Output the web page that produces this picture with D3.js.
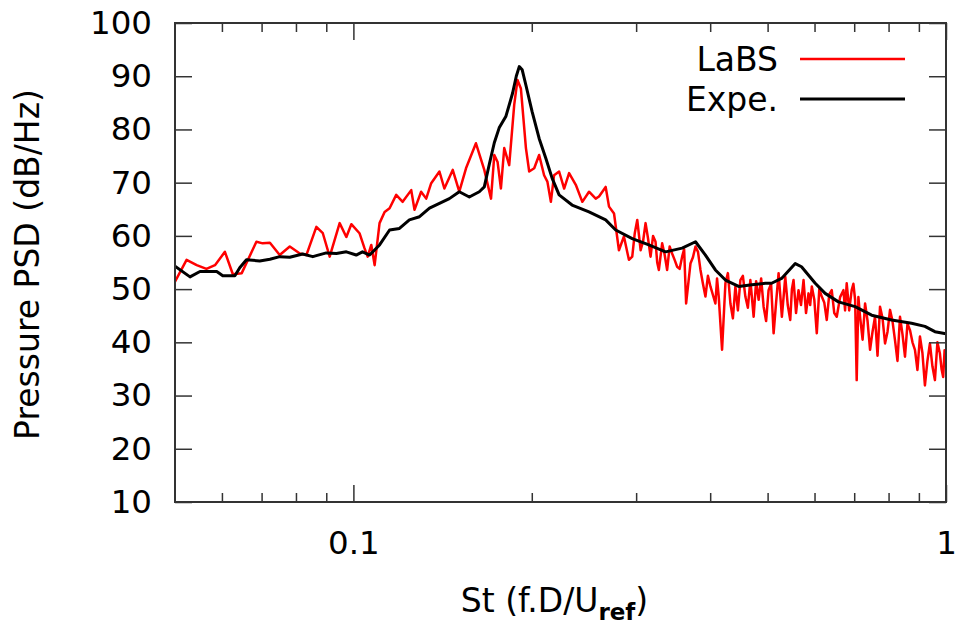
<!DOCTYPE html>
<html>
<head>
<meta charset="utf-8">
<script src="https://cdn.jsdelivr.net/npm/d3@7"></script>
<style>
  body { margin: 0; background: #fff; }
  text { font-family: "DejaVu Sans", sans-serif; fill: #000; }
</style>
</head>
<body>
<svg id="chart"></svg>
<script>
const W = 964, H = 626;

// LaBS (simulation), St and PSD in dB/Hz
var labsSt = [0.0500, 0.0523, 0.0544, 0.0565, 0.0584, 0.0607, 0.0626, 0.0648, 0.0686, 0.0703,
  0.0723, 0.0751, 0.0781, 0.0812, 0.0833, 0.0866, 0.0888, 0.0912, 0.0948, 0.0973,
  0.0992, 0.1024, 0.1044, 0.1057, 0.1072, 0.1086, 0.1107, 0.1129, 0.1151, 0.1181,
  0.1211, 0.1252, 0.1268, 0.1301, 0.1327, 0.1353, 0.1397, 0.1424, 0.1471, 0.1509,
  0.1549, 0.1610, 0.1663, 0.1707, 0.1729, 0.1751, 0.1774, 0.1797, 0.1832, 0.1868,
  0.1892, 0.1917, 0.1955, 0.1980, 0.2019, 0.2058, 0.2098, 0.2125, 0.2154, 0.2181,
  0.2224, 0.2268, 0.2312, 0.2373, 0.2434, 0.2498, 0.2564, 0.2597, 0.2665, 0.2700,
  0.2753, 0.2806, 0.2861, 0.2917, 0.2955, 0.2984, 0.3013, 0.3053, 0.3082, 0.3112,
  0.3142, 0.3173, 0.3204, 0.3235, 0.3256, 0.3277, 0.3319, 0.3351, 0.3384, 0.3417,
  0.3450, 0.3484, 0.3518, 0.3552, 0.3587, 0.3615, 0.3643, 0.3705, 0.3741, 0.3778,
  0.3815, 0.3852, 0.3889, 0.3927, 0.3965, 0.4004, 0.4082, 0.4108, 0.4135, 0.4189,
  0.4244, 0.4285, 0.4327, 0.4369, 0.4412, 0.4455, 0.4498, 0.4542, 0.4586, 0.4631,
  0.4676, 0.4736, 0.4782, 0.4829, 0.4876, 0.4923, 0.4971, 0.5019, 0.5068, 0.5118,
  0.5168, 0.5218, 0.5251, 0.5285, 0.5320, 0.5355, 0.5407, 0.5460, 0.5495, 0.5530,
  0.5584, 0.5638, 0.5693, 0.5749, 0.5805, 0.5861, 0.5899, 0.5937, 0.5995, 0.6053,
  0.6112, 0.6171, 0.6231, 0.6292, 0.6353, 0.6415, 0.6478, 0.6541, 0.6627, 0.6713,
  0.6756, 0.6799, 0.6865, 0.6932, 0.6978, 0.7025, 0.7068, 0.7115, 0.7162, 0.7232,
  0.7302, 0.7373, 0.7445, 0.7517, 0.7590, 0.7664, 0.7739, 0.7815, 0.7891, 0.7968,
  0.8045, 0.8123, 0.8202, 0.8282, 0.8363, 0.8445, 0.8527, 0.8610, 0.8694, 0.8779,
  0.8864, 0.8950, 0.9037, 0.9125, 0.9214, 0.9304, 0.9394, 0.9486, 0.9578, 0.9672,
  0.9766, 0.9828, 0.9891, 0.9945, 1.0000];
var labsDb = [51.4, 55.5, 54.5, 53.8, 54.5, 57.0, 52.8, 53.0, 58.9, 58.6,
  58.7, 56.4, 58.0, 56.7, 56.4, 61.7, 60.5, 56.1, 62.4, 59.8,
  62.2, 60.5, 57.7, 56.1, 58.3, 54.5, 62.4, 64.5, 65.2, 67.7,
  66.4, 68.6, 64.9, 68.3, 67.0, 69.9, 72.1, 68.9, 72.4, 68.3,
  72.7, 77.4, 72.4, 67.0, 75.2, 73.9, 68.9, 76.5, 73.3, 84.6,
  89.3, 87.7, 76.5, 72.1, 72.7, 75.2, 71.4, 70.2, 66.4, 71.4,
  72.1, 68.9, 71.8, 69.6, 66.4, 68.3, 67.0, 67.4, 69.2, 65.5,
  64.2, 57.3, 59.9, 55.5, 56.1, 60.5, 63.0, 57.3, 59.0, 62.4,
  59.5, 56.1, 60.0, 58.9, 55.0, 53.6, 58.6, 56.5, 53.6, 58.0,
  56.7, 55.5, 54.2, 53.8, 56.1, 57.5, 47.3, 54.8, 56.0, 58.0,
  57.0, 53.6, 51.0, 48.6, 52.5, 50.5, 47.3, 52.0, 48.6, 38.6,
  51.1, 53.0, 47.3, 44.5, 50.5, 46.0, 51.7, 52.5, 48.6, 46.5,
  51.7, 44.8, 51.5, 48.0, 52.0, 46.7, 44.0, 49.8, 51.0, 41.7,
  47.5, 53.0, 49.0, 44.8, 48.5, 52.3, 47.0, 44.2, 50.0, 51.7,
  45.5, 49.8, 47.0, 51.7, 45.5, 49.2, 47.0, 50.5, 48.0, 41.7,
  50.0, 48.6, 47.5, 44.2, 49.0, 49.8, 45.5, 44.8, 48.5, 49.8,
  46.0, 51.1, 46.0, 49.8, 51.0, 48.0, 32.9, 48.5, 44.8, 40.5,
  47.3, 44.0, 38.6, 42.0, 44.8, 37.5, 46.7, 44.5, 39.8, 42.0,
  46.1, 44.0, 40.4, 36.5, 44.8, 41.5, 37.3, 43.5, 42.3, 40.0,
  38.6, 34.8, 41.1, 38.0, 31.9, 36.5, 39.8, 35.5, 32.9, 40.0,
  37.9, 35.0, 33.5, 38.5, 37.3];

// Expe. (measurement)
var expeSt = [0.0500, 0.0530, 0.0551, 0.0588, 0.0602, 0.0631, 0.0643, 0.0660, 0.0695, 0.0723,
  0.0751, 0.0781, 0.0821, 0.0854, 0.0900, 0.0936, 0.0973, 0.1011, 0.1036, 0.1065,
  0.1107, 0.1151, 0.1196, 0.1243, 0.1293, 0.1344, 0.1397, 0.1452, 0.1509, 0.1569,
  0.1631, 0.1663, 0.1696, 0.1729, 0.1762, 0.1809, 0.1856, 0.1883, 0.1905, 0.1927,
  0.1955, 0.2003, 0.2058, 0.2112, 0.2165, 0.2224, 0.2339, 0.2498, 0.2665, 0.2771,
  0.2955, 0.3152, 0.3363, 0.3587, 0.3778, 0.3927, 0.4082, 0.4244, 0.4468, 0.4705,
  0.4956, 0.5078, 0.5279, 0.5567, 0.5704, 0.6016, 0.6253, 0.6585, 0.7025, 0.7491,
  0.8096, 0.8748, 0.9214, 0.9578, 0.9891, 1.0000];
var expeDb = [54.3, 52.3, 53.3, 53.3, 52.5, 52.5, 54.0, 55.5, 55.3, 55.6,
  56.1, 56.0, 56.6, 56.1, 56.8, 56.7, 57.0, 56.4, 57.0, 56.4,
  58.3, 61.1, 61.4, 63.0, 63.6, 65.2, 66.1, 67.0, 68.3, 67.3,
  68.3, 69.2, 73.5, 77.5, 80.3, 82.5, 86.8, 90.0, 91.8, 91.2,
  88.3, 83.3, 78.3, 74.6, 70.8, 67.7, 65.8, 64.5, 63.0, 61.1,
  59.5, 58.3, 57.0, 57.7, 58.9, 56.4, 53.6, 51.7, 50.5, 50.8,
  51.1, 51.1, 52.0, 54.8, 54.2, 51.1, 49.2, 47.6, 46.7, 45.1,
  44.2, 43.6, 43.0, 42.0, 41.7, 41.6];

var yTicks = [10, 20, 30, 40, 50, 60, 70, 80, 90, 100];
var xMajor = [0.1, 1];
var xMinor = [0.06, 0.07, 0.08, 0.09, 0.2, 0.3, 0.4, 0.5, 0.6, 0.7, 0.8, 0.9];

var margin = {left: 175, right: 18, top: 23, bottom: 124};
var pw = W - margin.left - margin.right,
    ph = H - margin.top - margin.bottom;

var svg = d3.select("#chart").attr("width", W).attr("height", H);

var x = d3.scaleLog().domain([0.05, 1]).range([0, pw]);
var y = d3.scaleLinear().domain([10, 100]).range([ph, 0]);

var g = svg.append("g").attr("transform", "translate(" + margin.left + "," + margin.top + ")");

svg.append("defs").append("clipPath").attr("id", "clip")
  .append("rect").attr("width", pw).attr("height", ph);

var labs = labsSt.map((s, i) => [s, labsDb[i]]);
var expe = expeSt.map((s, i) => [s, expeDb[i]]);

var line = d3.line().x(d => x(d[0])).y(d => y(d[1]));

var plot = g.append("g").attr("clip-path", "url(#clip)");
plot.append("path").datum(labs)
  .attr("fill", "none").attr("stroke", "#ff0000").attr("stroke-width", 2.5)
  .attr("stroke-linejoin", "round").attr("d", line);
plot.append("path").datum(expe)
  .attr("fill", "none").attr("stroke", "#000").attr("stroke-width", 3)
  .attr("stroke-linejoin", "round").attr("d", line);

// axes: ticks inward, mirrored on all sides (gnuplot look)
var tickCol = "#333";
function styleAxis(sel) {
  sel.select(".domain").remove();
  sel.selectAll(".tick line").attr("stroke", tickCol).attr("stroke-width", 1.5);
  sel.selectAll("text").style("font-size", "32.5px").attr("fill", "#000");
}

g.append("g").call(d3.axisLeft(y).tickValues(yTicks).tickSize(-17).tickPadding(23))
  .call(styleAxis);
g.append("g").attr("transform", "translate(" + pw + ",0)")
  .call(d3.axisRight(y).tickValues(yTicks).tickSize(-17).tickFormat(""))
  .call(styleAxis);

g.append("g").attr("transform", "translate(0," + ph + ")")
  .call(d3.axisBottom(x).tickValues(xMajor).tickSize(-17).tickPadding(29).tickFormat(d3.format("")))
  .call(styleAxis);
g.append("g").attr("transform", "translate(0," + ph + ")")
  .call(d3.axisBottom(x).tickValues(xMinor).tickSize(-9).tickFormat(""))
  .call(styleAxis);
g.append("g")
  .call(d3.axisTop(x).tickValues(xMajor).tickSize(-17).tickFormat(""))
  .call(styleAxis);
g.append("g")
  .call(d3.axisTop(x).tickValues(xMinor).tickSize(-9).tickFormat(""))
  .call(styleAxis);

g.append("rect").attr("width", pw).attr("height", ph)
  .attr("fill", "none").attr("stroke", tickCol).attr("stroke-width", 2);

// axis labels
svg.append("text")
  .attr("transform", "translate(39," + (margin.top + ph / 2 + 2) + ") rotate(-90)")
  .attr("text-anchor", "middle").style("font-size", "33px")
  .text("Pressure PSD (dB/Hz)");

var xl = svg.append("text").attr("x", margin.left + pw / 2 - 6).attr("y", 612)
  .attr("text-anchor", "middle").style("font-size", "33px");
xl.append("tspan").text("St (f.D/U");
xl.append("tspan").attr("dy", 8).style("font-size", "23px").style("font-weight", "bold").text("ref");
xl.append("tspan").attr("dy", -8).text(")");

// legend
var legend = [{name: "LaBS", color: "#ff0000", w: 2.5}, {name: "Expe.", color: "#000", w: 3}];
var lg = svg.append("g").selectAll("g").data(legend).enter().append("g")
  .attr("transform", (d, i) => "translate(0," + (59 + i * 40) + ")");
lg.append("text").attr("x", 778).attr("dy", "0.36em").attr("text-anchor", "end")
  .style("font-size", "33px").text(d => d.name);
lg.append("line").attr("x1", 800).attr("x2", 905)
  .attr("stroke", d => d.color).attr("stroke-width", d => d.w);
</script>
</body>
</html>
